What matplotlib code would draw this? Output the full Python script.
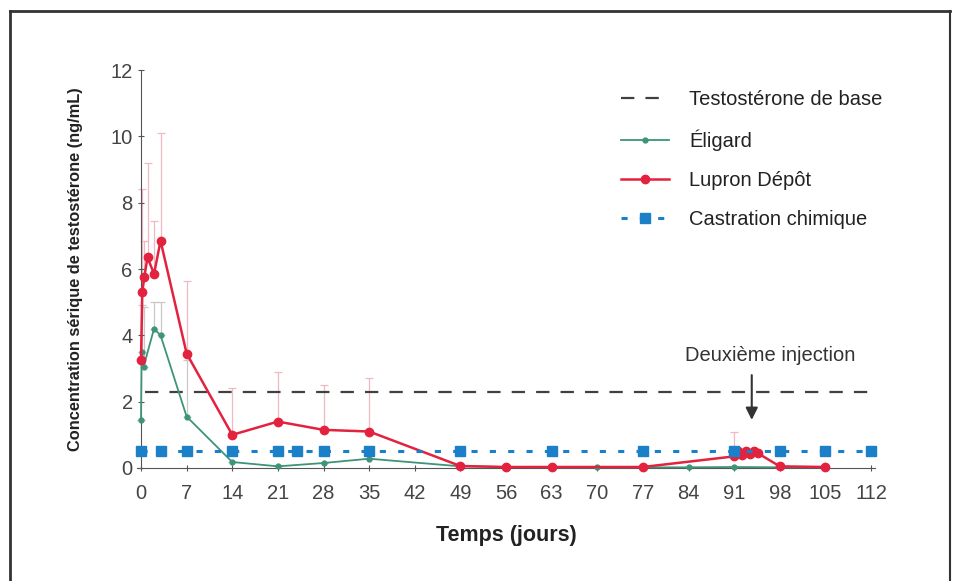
import numpy as np
import matplotlib.pyplot as plt
from matplotlib.lines import Line2D

plt.rcParams['font.family'] = ['Liberation Sans', 'DejaVu Sans']

# data
days_eli = [0, 0.1, 0.4, 2, 3, 7, 14, 21, 28, 35, 49, 56, 63, 70, 77, 84, 91, 98, 105]
eli = [1.45, 3.5, 3.05, 4.2, 4.0, 1.55, 0.18, 0.05, 0.15, 0.28, 0.05, 0.03, 0.02, 0.02, 0.02, 0.02, 0.03, 0.02, 0.02]
eli_err = [0, 1.4, 1.8, 0.8, 1.0, 1.7, 0, 0, 0, 0, 0, 0, 0, 0, 0, 0, 0, 0, 0]

days_lup = [0, 0.2, 0.5, 1, 2, 3, 7, 14, 21, 28, 35, 49, 56, 63, 77, 91, 91.6, 92.2, 92.8, 93.4, 94, 94.6, 98, 105]
lup = [3.25, 5.3, 5.75, 6.35, 5.85, 6.85, 3.45, 1.0, 1.4, 1.15, 1.1, 0.06, 0.03, 0.03, 0.03, 0.35, 0.5, 0.4, 0.5, 0.42, 0.5, 0.45, 0.05, 0.03]
lup_err = [0, 3.1, 1.1, 2.85, 1.6, 3.25, 2.2, 1.4, 1.5, 1.35, 1.6, 0, 0, 0, 0, 0.75, 0, 0, 0, 0, 0, 0, 0, 0]

days_cas = [0, 3, 7, 14, 21, 24, 28, 35, 49, 63, 77, 91, 98, 105, 112]
cas = [0.5] * 15

base_x = [0.6, 112]
base_y = [2.28, 2.28]

xticks = list(range(0, 113, 7))
yticks = list(range(0, 13, 2))

green = '#3d9479'
red = '#e3223f'
blue = '#1b80c8'

fig = plt.figure(figsize=(9.6, 5.81), dpi=100)
ax = fig.add_axes([0.1428, 0.1945, 0.7686, 0.685])

# error bars (upper only)
ax.errorbar(days_lup, lup, yerr=[np.zeros(len(lup_err)), lup_err], fmt='none',
            ecolor='#f0b8c2', elinewidth=0.9, capsize=3, capthick=0.9, zorder=1)
ax.errorbar(days_eli, eli, yerr=[np.zeros(len(eli_err)), eli_err], fmt='none',
            ecolor='#c8c8c8', elinewidth=0.9, capsize=3, capthick=0.9, zorder=1)

ax.plot(base_x, base_y, color='#404040', lw=1.6, dashes=(6, 5),
        label='Testostérone de base', zorder=2)
ax.plot(days_eli, eli, color=green, lw=1.3, marker='o', ms=3.5,
        label='Éligard', zorder=3, clip_on=False)
ax.plot(days_lup, lup, color=red, lw=1.8, marker='o', ms=6,
        label='Lupron Dépôt', zorder=4, clip_on=False)
ax.plot(days_cas, cas, color=blue, lw=2.2, dashes=(2, 4), marker='s', ms=7.5,
        label='Castration chimique', zorder=5, clip_on=False)

ax.text(96.5, 3.4, 'Deuxième injection', ha='center', va='center',
        fontsize=14.5, color='#333333')
ax.annotate('', xy=(93.7, 1.45), xytext=(93.7, 2.8),
            arrowprops=dict(arrowstyle='-|>', color='#333333', lw=1.5,
                            mutation_scale=18, shrinkA=0, shrinkB=0))

ax.set_xlim(-0.6, 112.6)
ax.set_ylim(0, 12)
ax.set_xticks(xticks)
ax.set_yticks(yticks)
ax.spines['left'].set_position(('data', 0))
ax.spines['top'].set_visible(False)
ax.spines['right'].set_visible(False)
for s in ['left', 'bottom']:
    ax.spines[s].set_color('#555555')
ax.tick_params(labelsize=14.5, colors='#555555', labelcolor='#444444', length=5,
               direction='inout')
ax.tick_params(axis='x', pad=9)

ax.set_ylabel('Concentration sérique de testostérone (ng/mL)', fontsize=11.8,
              fontweight='bold', color='#222222', labelpad=20)
ax.set_xlabel('Temps (jours)', fontsize=15.5, fontweight='bold', color='#222222', labelpad=16)

leg = ax.legend(loc='upper right', bbox_to_anchor=(1.035, 0.995), frameon=False, fontsize=14.5,
                handlelength=2.4, labelspacing=1.0, handletextpad=1.0)
for t in leg.get_texts():
    t.set_color('#222222')

# outer frame of the figure
fig.add_artist(Line2D([10/960, 10/960], [0, 1 - 11/581], color='#333333', lw=2))
fig.add_artist(Line2D([10/960, 950/960], [1 - 11/581, 1 - 11/581], color='#333333', lw=2))
fig.add_artist(Line2D([950/960, 950/960], [0, 1 - 11/581], color='#333333', lw=1.5))

fig.savefig('out.png', dpi=100)
